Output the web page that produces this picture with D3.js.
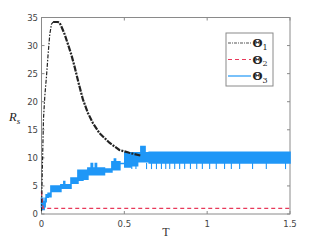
<!DOCTYPE html>
<html><head><meta charset="utf-8">
<script src="https://cdn.jsdelivr.net/npm/d3@7"></script>
<style>body{margin:0;background:#fff}svg{display:block}</style>
</head><body>
<svg id="c" width="321" height="241"></svg>
<script>
const xTicks=[0,0.5,1,1.5];
const yTicks=[0,5,10,15,20,25,30,35];
const legendLabels=["1","2","3"];
// Theta1 curve [T,R]
const theta1=[[0,0.5],[0.005,8],[0.012,17],[0.02,21],[0.03,24.5],[0.04,28.5],[0.05,32],[0.06,33.8],[0.07,34.2],[0.1,34.2],[0.11,34],[0.12,33.4],[0.14,32],[0.16,30.2],[0.18,28.4],[0.2,26.2],[0.225,23.2],[0.25,20.4],[0.28,18],[0.31,16.2],[0.35,14.4],[0.41,12.7],[0.47,11.4],[0.53,10.9],[0.6,10.4]];
// Theta2 curve [T,R]
const theta2=[[0,4],[0.004,2.5],[0.01,1],[1.5,1]];
// Theta3 switching band, step after: [T, low, high]
const theta3=[[0,1.2,2.8],[0.008,0.8,1.6],[0.016,1.3,2.2],[0.022,2.2,2.8],[0.028,3.0,3.4],[0.04,3.1,3.7],[0.057,4.0,5.0],[0.117,4.6,5.2],[0.135,4.6,5.8],[0.14,4.6,5.2],[0.178,5.5,6.4],[0.22,6.0,7.8],[0.25,6.2,7.8],[0.28,7.0,8.2],[0.3,7.0,9.0],[0.308,7.0,8.2],[0.325,7.0,9.0],[0.332,7.0,8.2],[0.38,7.5,8.0],[0.425,7.9,9.3],[0.44,8.0,9.8],[0.447,7.9,9.3],[0.473,9.0,9.0],[0.503,8.4,10.9],[0.54,8.6,10.9],[0.58,9.3,10.9],[0.6,9.3,12.0],[0.625,9.3,10.9],[0.65,9.1,11.0],[1.5,9.1,11.0]];
// Theta3 downward spikes: T positions, spike bottom value
const spikeT=[0.545,0.57,0.634,0.664,0.694,0.724,0.75,0.774,0.804,0.834,0.864,0.899,0.937,0.971,1.015,1.055,1.105,1.146,1.196,1.274,1.357,1.473];
const spikeLow=8.0;

const svg=d3.select("#c");
const L=41.5,R=290,T=17.5,B=214;
const x=d3.scaleLinear().domain([0,1.5]).range([L,R]);
const y=d3.scaleLinear().domain([0,35]).range([B,T]);
const axisCol="#8a8a8a", txtCol="#444";

svg.append("rect").attr("x",L).attr("y",T).attr("width",R-L).attr("height",B-T)
  .attr("fill","none").attr("stroke",axisCol).attr("stroke-width",1);

const ax=svg.append("g");
xTicks.forEach(t=>{
  ax.append("line").attr("x1",x(t)).attr("x2",x(t)).attr("y1",B).attr("y2",B-3).attr("stroke",axisCol);
  ax.append("line").attr("x1",x(t)).attr("x2",x(t)).attr("y1",T).attr("y2",T+3).attr("stroke",axisCol);
  ax.append("text").attr("x",x(t)).attr("y",B+13).attr("text-anchor","middle")
    .attr("font-family","DejaVu Sans, sans-serif").attr("font-size",8.5).attr("fill",txtCol).text(t);
});
yTicks.forEach(t=>{
  ax.append("line").attr("x1",L).attr("x2",L+3).attr("y1",y(t)).attr("y2",y(t)).attr("stroke",axisCol);
  ax.append("line").attr("x1",R).attr("x2",R-3).attr("y1",y(t)).attr("y2",y(t)).attr("stroke",axisCol);
  ax.append("text").attr("x",L-3.5).attr("y",y(t)+3).attr("text-anchor","end")
    .attr("font-family","DejaVu Sans, sans-serif").attr("font-size",8.5).attr("fill",txtCol).text(t);
});

const blue="#1f97f7", red="#e8395a", black="#222";
const line=d3.line().x(d=>x(d[0])).y(d=>y(d[1]));

const area=d3.area().x(d=>x(d[0])).y0(d=>y(d[1])).y1(d=>y(d[2])).curve(d3.curveStepAfter);
svg.append("path").attr("d",area(theta3)).attr("fill",blue).attr("stroke",blue).attr("stroke-width",1.6);
spikeT.forEach(t=>{
  svg.append("line").attr("x1",x(t)).attr("x2",x(t)).attr("y1",y(9.1)).attr("y2",y(spikeLow))
    .attr("stroke",blue).attr("stroke-width",1.1);
});
svg.append("path").attr("d",line(theta2)).attr("fill","none").attr("stroke",red)
  .attr("stroke-width",1.4).attr("stroke-dasharray","4,3");
// Theta1: thin rise, thick stepped decay
const peakIdx=theta1.findIndex(d=>d[0]>=0.07);
svg.append("path").attr("d",line(theta1.slice(0,peakIdx+1))).attr("fill","none").attr("stroke",black)
  .attr("stroke-width",1.2).attr("stroke-dasharray","4,1.5,1.5,1.5");
svg.append("path").attr("d",line(theta1.slice(peakIdx))).attr("fill","none").attr("stroke",black)
  .attr("stroke-width",2.2).attr("stroke-dasharray","6,1.2,2,1.2");

const rs=svg.append("text").attr("x",9).attr("y",121).attr("font-family","Liberation Serif, serif")
  .attr("font-style","italic").attr("font-size",12.5).attr("fill","#222");
rs.append("tspan").text("R");
rs.append("tspan").attr("font-size",9).attr("dy",2.5).text("s");
svg.append("text").attr("x",166).attr("y",236).attr("text-anchor","middle")
  .attr("font-family","Liberation Serif, serif").attr("font-size",12).attr("fill","#333").text("T");

const lg=svg.append("g");
lg.append("rect").attr("x",226).attr("y",33).attr("width",47).attr("height",53)
  .attr("fill","#fff").attr("stroke",axisCol).attr("stroke-width",1);
const styles=[{c:"#555",d:"3,1,1,1"},{c:red,d:"4,3"},{c:blue,d:null}];
legendLabels.forEach((lab,i)=>{
  const yy=43+i*16.5;
  const l=lg.append("line").attr("x1",228).attr("x2",251).attr("y1",yy).attr("y2",yy)
    .attr("stroke",styles[i].c).attr("stroke-width",1.2);
  if(styles[i].d) l.attr("stroke-dasharray",styles[i].d);
  const t=lg.append("text").attr("x",252.5).attr("y",yy+4).attr("font-family","DejaVu Serif, serif")
    .attr("font-weight","bold").attr("font-size",11.5).attr("fill","#222");
  t.append("tspan").text("Θ");
  t.append("tspan").attr("font-weight","normal").attr("font-size",8).attr("dy",2.5).text(lab);
});
</script>
</body></html>
